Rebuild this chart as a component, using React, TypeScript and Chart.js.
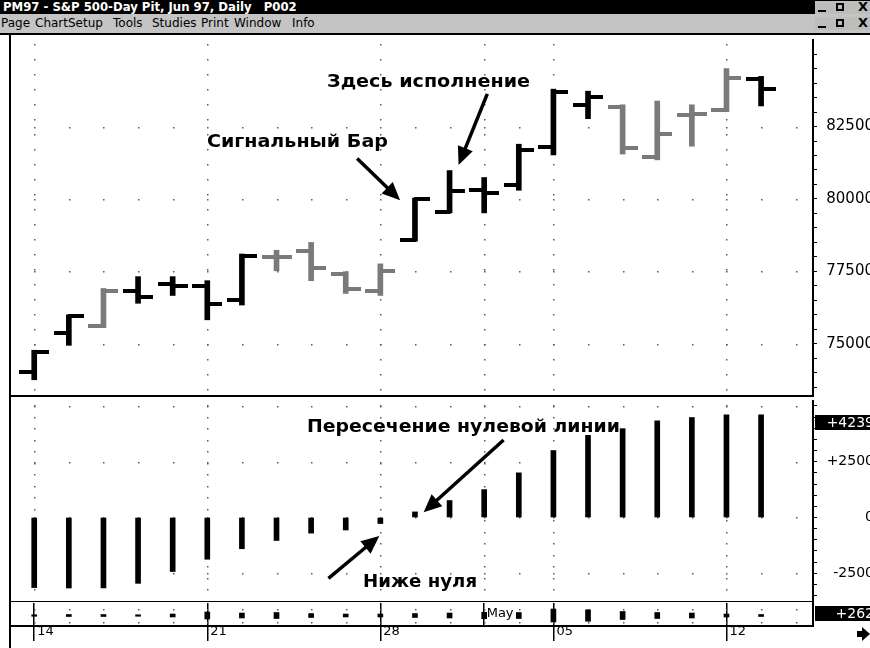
import React, { useEffect, useRef } from 'react';
import { Chart, registerables } from 'chart.js';

Chart.register(...registerables);

// ---------------- data ----------------
const dayLabels = [
  'Apr 14', 'Apr 15', 'Apr 16', 'Apr 17', 'Apr 18',
  'Apr 21', 'Apr 22', 'Apr 23', 'Apr 24', 'Apr 25',
  'Apr 28', 'Apr 29', 'Apr 30', 'May 1', 'May 2',
  'May 5', 'May 6', 'May 7', 'May 8', 'May 9',
  'May 12', 'May 13',
];
const openPrices = [74030, 75390, 75620, 76810, 77080, 76980, 76500, 77990, 78200, 77420, 76810, 78600, 79550, 80300, 80470, 81790, 83250, 83180, 81450, 82900, 83080, 84130];
const highPrices = [74780, 76000, 76910, 77320, 77320, 77180, 78100, 78230, 78500, 77490, 77760, 80030, 80980, 80740, 81890, 83790, 83720, 83250, 83380, 83250, 84500, 84230];
const lowPrices = [73760, 74950, 75560, 76400, 76670, 75830, 76340, 77520, 77180, 76740, 76670, 78540, 79520, 79520, 80300, 81520, 82770, 81550, 81350, 81820, 83010, 83210];
const closePrices = [74710, 75960, 76840, 76610, 77010, 76370, 78030, 78000, 77620, 76880, 77520, 79990, 80270, 80200, 81690, 83690, 83520, 81760, 82230, 82940, 84160, 83790];
const grayBar = [false, false, true, false, false, false, false, true, true, true, true, false, false, false, false, false, false, true, true, true, true, false];

const oscillator = [-3140, -3160, -3155, -2950, -2420, -1870, -1400, -1030, -700, -560, -270, 250, 760, 1250, 2000, 3000, 3680, 3980, 4330, 4480, 4600, 4600];
const oscLastValue = 4239;
const oscLastLabel = '+4239';

const stripValues = [200, 262, 262, 200, 390, 920, 650, 790, 520, 390, 390, 520, 650, 850, 790, 1700, 1500, 1050, 790, 650, 390, 262];
const stripLastValue = 262;
const stripLastLabel = '+262';

const axisTickIndex = [0, 5, 10, 13, 15, 20];
const axisTickLabels = ['14', '21', '28', '', '05', '12'];
const monthTickIndex = [13];
const monthTickLabels = ['May'];

const priceLabelLevels = [75000, 77500, 80000, 82500];
const oscLabelLevels = [-2500, 0, 2500];
const oscGridLevels = [-2500, 0, 2500, 5000];
const stripGridLevels = [800, -900];

const TITLE = 'PM97 - S&P 500-Day Pit, Jun 97, Daily   P002';
const menuItems = [
  { t: 'Page', x: 1 }, { t: 'ChartSetup', x: 35 }, { t: 'Tools', x: 113 },
  { t: 'Studies', x: 152 }, { t: 'Print', x: 201 }, { t: 'Window', x: 234 }, { t: 'Info', x: 292 },
];

// annotations (data coordinates: day index, value)
const priceNotes = [
  { text: 'Здесь исполнение', x: 8.46, y: 83857, width: 203 },
  { text: 'Сигнальный Бар', x: 4.99, y: 81804, width: 181 },
];
const priceArrows = [
  { from: [9.33, 81397], to: [10.57, 79955] },
  { from: [13.09, 83630], to: [12.26, 81176] },
];
const oscNotes = [
  { text: 'Пересечение нулевой линии', x: 7.88, y: 3844, width: 313 },
  { text: 'Ниже нуля', x: 9.5, y: -3100, width: 114 },
];
const oscArrows = [
  { from: [13.56, 3472], to: [11.25, 233] },
  { from: [8.5, -2724], to: [9.97, -829] },
];

// ---------------- layout / style ----------------
const FONT = '"DejaVu Sans", sans-serif';
const X_MIN = -0.7;
const X_MAX = 22.5;
const PRICE_MIN = 73235;
const PRICE_MAX = 85486;
const OSC_MIN = -3741;
const OSC_MAX = 5219;
const STRIP_MIN = -1375;
const STRIP_MAX = 1640;
const CANVAS_W = 874;
const AXIS_W = 61;
const BLACK = '#000000';
const GRAY = '#7a7a7a';
const DOT = '#5a5a5a';

function makeTickImage(color: string, side: 'open' | 'close'): HTMLCanvasElement {
  const c = document.createElement('canvas');
  c.width = 30;
  c.height = 4;
  const g = c.getContext('2d')!;
  g.fillStyle = color;
  g.fillRect(side === 'open' ? 0 : 14, 0, 16, 4);
  return c;
}

function stepTicks(min: number, max: number, step: number) {
  const out: { value: number }[] = [];
  for (let v = Math.ceil(min / step) * step; v <= max; v += step) out.push({ value: v });
  return out;
}

function fitY(s: any) {
  s.width = AXIS_W;
  s.paddingTop = 0;
  s.paddingBottom = 0;
}

function drawArrow(ctx: CanvasRenderingContext2D, x1: number, y1: number, x2: number, y2: number) {
  const ang = Math.atan2(y2 - y1, x2 - x1);
  const c = Math.cos(ang), s = Math.sin(ang);
  const headLen = 18, headW = 8;
  const bx = x2 - headLen * c, by = y2 - headLen * s;
  ctx.lineWidth = 3.5;
  ctx.lineCap = 'butt';
  ctx.beginPath();
  ctx.moveTo(x1, y1);
  ctx.lineTo(bx + c * 2, by + s * 2);
  ctx.stroke();
  ctx.beginPath();
  ctx.moveTo(x2, y2);
  ctx.lineTo(bx + headW * s, by - headW * c);
  ctx.lineTo(bx - headW * s, by + headW * c);
  ctx.closePath();
  ctx.fill();
}

const dotGrid = (levels: number[], vStep: number) => ({
  id: 'dotGrid',
  beforeDatasetsDraw(chart: any) {
    const { ctx, chartArea: a, scales } = chart;
    const x = scales.x, y = scales.y;
    ctx.save();
    ctx.fillStyle = DOT;
    for (const lv of levels) {
      const py = Math.round(y.getPixelForValue(lv));
      for (let i = Math.ceil(X_MIN); i <= Math.floor(X_MAX); i++) {
        ctx.fillRect(Math.round(x.getPixelForValue(i)), py, 1.5, 1.5);
      }
    }
    if (vStep > 0) {
      for (const w of axisTickIndex) {
        const px = Math.round(x.getPixelForValue(w));
        for (let py = a.top + 4; py < a.bottom - 1; py += vStep) ctx.fillRect(px, Math.round(py), 1.5, 1.5);
      }
    }
    ctx.restore();
  },
});

const framePlugin = {
  id: 'frame',
  afterDraw(chart: any) {
    const { ctx, chartArea: a } = chart;
    ctx.save();
    ctx.fillStyle = BLACK;
    ctx.fillRect(a.left, a.bottom, a.right - a.left + 1, 2);
    ctx.restore();
  },
};

const notesPlugin = (notes: any[], arrows: any[]) => ({
  id: 'notes',
  afterDatasetsDraw(chart: any) {
    const { ctx, scales } = chart;
    const x = scales.x, y = scales.y;
    ctx.save();
    ctx.fillStyle = BLACK;
    ctx.strokeStyle = BLACK;
    for (const n of notes) {
      ctx.font = `bold 18px ${FONT}`;
      const w = ctx.measureText(n.text).width;
      ctx.save();
      ctx.translate(x.getPixelForValue(n.x), y.getPixelForValue(n.y));
      ctx.scale(n.width / w, 1);
      ctx.textAlign = 'left';
      ctx.textBaseline = 'alphabetic';
      ctx.fillText(n.text, 0, 0);
      ctx.restore();
    }
    for (const ar of arrows) {
      drawArrow(
        ctx,
        x.getPixelForValue(ar.from[0]), y.getPixelForValue(ar.from[1]),
        x.getPixelForValue(ar.to[0]), y.getPixelForValue(ar.to[1]),
      );
    }
    ctx.restore();
  },
});

const valueBox = (value: number, text: string) => ({
  id: 'valueBox',
  afterDraw(chart: any) {
    const { ctx, chartArea: a, scales } = chart;
    const py = scales.y.getPixelForValue(value);
    ctx.save();
    ctx.fillStyle = BLACK;
    ctx.fillRect(a.right + 2, Math.round(py - 7.5), 60, 15);
    ctx.fillStyle = '#ffffff';
    ctx.font = `14px ${FONT}`;
    ctx.textAlign = 'right';
    ctx.textBaseline = 'middle';
    ctx.fillText(text, chart.width, py + 0.5);
    ctx.restore();
  },
});

const stripExtras = {
  id: 'stripExtras',
  afterDraw(chart: any) {
    const { ctx, chartArea: a, scales } = chart;
    ctx.save();
    ctx.fillStyle = BLACK;
    ctx.font = `13px ${FONT}`;
    ctx.textAlign = 'left';
    ctx.textBaseline = 'middle';
    monthTickIndex.forEach((idx, k) => {
      ctx.fillText(monthTickLabels[k], scales.x.getPixelForValue(idx) + 2.5, (a.top + a.bottom) / 2 - 0.5);
    });
    // scroll arrow icon at bottom right
    ctx.fillRect(857, 29, 6, 6);
    ctx.beginPath();
    ctx.moveTo(862, 25);
    ctx.lineTo(870, 32);
    ctx.lineTo(862, 39);
    ctx.closePath();
    ctx.fill();
    ctx.restore();
  },
};

function WinButtons({ top }: { top: number }) {
  return (
    <>
      <div style={{ position: 'absolute', left: 815, top, width: 55, height: 13, background: '#bdbdbd' }} />
      <div style={{ position: 'absolute', left: 818, top: top + 9, width: 8, height: 2, background: '#000' }} />
      <div style={{ position: 'absolute', left: 836, top: top + 2, width: 8, height: 8, border: '2px solid #000', boxSizing: 'border-box' }} />
      <div style={{ position: 'absolute', left: 858, top: top - 1, font: `bold 13px ${FONT}`, lineHeight: '14px', color: '#000' }}>X</div>
    </>
  );
}

export default function App() {
  const refA = useRef<HTMLCanvasElement>(null);
  const refB = useRef<HTMLCanvasElement>(null);
  const refC = useRef<HTMLCanvasElement>(null);

  useEffect(() => {
    Chart.defaults.font.family = FONT;
    const charts: Chart[] = [];
    const xs = dayLabels.map((_, i) => i);
    const imgs = {
      openB: makeTickImage(BLACK, 'open'),
      openG: makeTickImage(GRAY, 'open'),
      closeB: makeTickImage(BLACK, 'close'),
      closeG: makeTickImage(GRAY, 'close'),
    };
    const common = {
      responsive: false,
      animation: false as const,
      events: [] as any[],
      plugins: { legend: { display: false }, tooltip: { enabled: false } },
    };
    const hiddenX = { type: 'linear', min: X_MIN, max: X_MAX, display: false, offset: false, grid: { offset: false } };

    // ---- price panel ----
    charts.push(new Chart(refA.current!, {
      type: 'bar',
      data: {
        datasets: [
          {
            type: 'bar',
            data: xs.map((i) => ({ x: i, y: [lowPrices[i], highPrices[i]] })) as any,
            backgroundColor: grayBar.map((g) => (g ? GRAY : BLACK)),
            barThickness: 5,
            borderWidth: 0,
          },
          {
            type: 'scatter',
            data: xs.map((i) => ({ x: i, y: openPrices[i] })),
            pointStyle: ((c: any) => (grayBar[c.dataIndex] ? imgs.openG : imgs.openB)) as any,
            pointRadius: 2,
          },
          {
            type: 'scatter',
            data: xs.map((i) => ({ x: i, y: closePrices[i] })),
            pointStyle: ((c: any) => (grayBar[c.dataIndex] ? imgs.closeG : imgs.closeB)) as any,
            pointRadius: 2,
          },
        ] as any,
      },
      options: {
        ...common,
        layout: { padding: { left: 10, right: 0, top: 2, bottom: 2 } },
        scales: {
          x: hiddenX,
          y: {
            type: 'linear',
            position: 'right',
            min: PRICE_MIN,
            max: PRICE_MAX,
            afterBuildTicks: (s: any) => { s.ticks = stepTicks(PRICE_MIN, PRICE_MAX, 500); },
            afterFit: fitY,
            grid: { drawOnChartArea: false, drawTicks: true, tickLength: 4, color: BLACK, lineWidth: 1 },
            border: { display: true, color: BLACK, width: 2 },
            ticks: {
              autoSkip: false,
              crossAlign: 'far',
              padding: 6,
              color: BLACK,
              font: { family: FONT, size: 15 },
              callback: (v: any) => (priceLabelLevels.includes(Number(v)) ? String(v) : ''),
            },
          },
        },
      } as any,
      plugins: [dotGrid(priceLabelLevels, 15), framePlugin, notesPlugin(priceNotes, priceArrows)],
    }));

    // ---- oscillator panel ----
    charts.push(new Chart(refB.current!, {
      type: 'bar',
      data: {
        datasets: [
          {
            type: 'bar',
            data: xs.map((i) => ({ x: i, y: oscillator[i] })),
            backgroundColor: BLACK,
            barThickness: 5,
            borderWidth: 0,
          },
        ] as any,
      },
      options: {
        ...common,
        layout: { padding: { left: 10, right: 0, top: 1, bottom: 1 } },
        scales: {
          x: hiddenX,
          y: {
            type: 'linear',
            position: 'right',
            min: OSC_MIN,
            max: OSC_MAX,
            afterBuildTicks: (s: any) => { s.ticks = stepTicks(OSC_MIN, OSC_MAX, 500); },
            afterFit: fitY,
            grid: { drawOnChartArea: false, drawTicks: true, tickLength: 4, color: BLACK, lineWidth: 1 },
            border: { display: true, color: BLACK, width: 2 },
            ticks: {
              autoSkip: false,
              crossAlign: 'far',
              padding: 6,
              color: BLACK,
              font: { family: FONT, size: 14 },
              callback: (v: any) => {
                const n = Number(v);
                if (!oscLabelLevels.includes(n)) return '';
                return n > 0 ? '+' + n : String(n);
              },
            },
          },
        },
      } as any,
      plugins: [dotGrid(oscGridLevels, 11.5), framePlugin, notesPlugin(oscNotes, oscArrows), valueBox(oscLastValue, oscLastLabel)],
    }));

    // ---- strip + date axis ----
    charts.push(new Chart(refC.current!, {
      type: 'bar',
      data: {
        datasets: [
          {
            type: 'bar',
            data: xs.map((i) => ({ x: i, y: [-stripValues[i] / 2, stripValues[i] / 2] })) as any,
            backgroundColor: BLACK,
            barThickness: 5,
            borderWidth: 0,
          },
        ] as any,
      },
      options: {
        ...common,
        layout: { padding: { left: 10, right: 0, top: 1, bottom: 0 } },
        scales: {
          x: {
            type: 'linear',
            position: 'bottom',
            min: X_MIN,
            max: X_MAX,
            offset: false,
            afterBuildTicks: (s: any) => { s.ticks = axisTickIndex.map((v) => ({ value: v })); },
            afterFit: (s: any) => { s.height = 22; s.paddingLeft = 0; s.paddingRight = 0; },
            grid: {
              offset: false,
              drawOnChartArea: true,
              drawTicks: true,
              tickLength: 15,
              color: BLACK,
              lineWidth: 1.5,
              tickWidth: 1.5,
              tickColor: (c: any) => (c.tick && monthTickIndex.includes(c.tick.value) ? 'rgba(0,0,0,0)' : BLACK),
            },
            border: { display: true, color: BLACK, width: 2 },
            ticks: {
              autoSkip: false,
              maxRotation: 0,
              align: 'start',
              labelOffset: 3,
              padding: -17,
              color: BLACK,
              font: { family: FONT, size: 13 },
              callback: (v: any) => {
                const k = axisTickIndex.indexOf(Number(v));
                return k >= 0 ? axisTickLabels[k] : '';
              },
            },
          },
          y: {
            type: 'linear',
            position: 'right',
            min: STRIP_MIN,
            max: STRIP_MAX,
            afterFit: fitY,
            grid: { drawOnChartArea: false, drawTicks: false },
            border: { display: true, color: BLACK, width: 2 },
            ticks: { display: false },
          },
        },
      } as any,
      plugins: [dotGrid(stripGridLevels, 0), valueBox(stripLastValue, stripLastLabel), stripExtras],
    }));

    return () => charts.forEach((c) => c.destroy());
  }, []);

  return (
    <div style={{ position: 'fixed', left: 0, top: 0, width: 870, height: 648, overflow: 'hidden', background: '#fff', fontFamily: FONT }}>
      <div style={{ position: 'absolute', left: 0, top: 0, width: 870, height: 14, background: '#000' }} />
      <div style={{ position: 'absolute', left: 3, top: 0, color: '#fff', font: `bold 11.7px ${FONT}`, lineHeight: '14px', whiteSpace: 'pre' }}>{TITLE}</div>
      <div style={{ position: 'absolute', left: 0, top: 14, width: 870, height: 19, background: '#c4c4c4' }} />
      {menuItems.map((m) => (
        <div key={m.t} style={{ position: 'absolute', left: m.x, top: 16, font: `12px ${FONT}`, lineHeight: '14px', color: '#000', whiteSpace: 'pre' }}>{m.t}</div>
      ))}
      <WinButtons top={1} />
      <WinButtons top={17} />
      <div style={{ position: 'absolute', left: 0, top: 33, width: 870, height: 2, background: '#000' }} />
      <div style={{ position: 'absolute', left: 0, top: 35 }}>
        <canvas ref={refA} width={CANVAS_W} height={365} style={{ display: 'block' }} />
      </div>
      <div style={{ position: 'absolute', left: 0, top: 400 }}>
        <canvas ref={refB} width={CANVAS_W} height={202} style={{ display: 'block' }} />
      </div>
      <div style={{ position: 'absolute', left: 0, top: 602 }}>
        <canvas ref={refC} width={CANVAS_W} height={46} style={{ display: 'block' }} />
      </div>
      <div style={{ position: 'absolute', left: 9, top: 35, width: 2, height: 613, background: '#000' }} />
    </div>
  );
}
